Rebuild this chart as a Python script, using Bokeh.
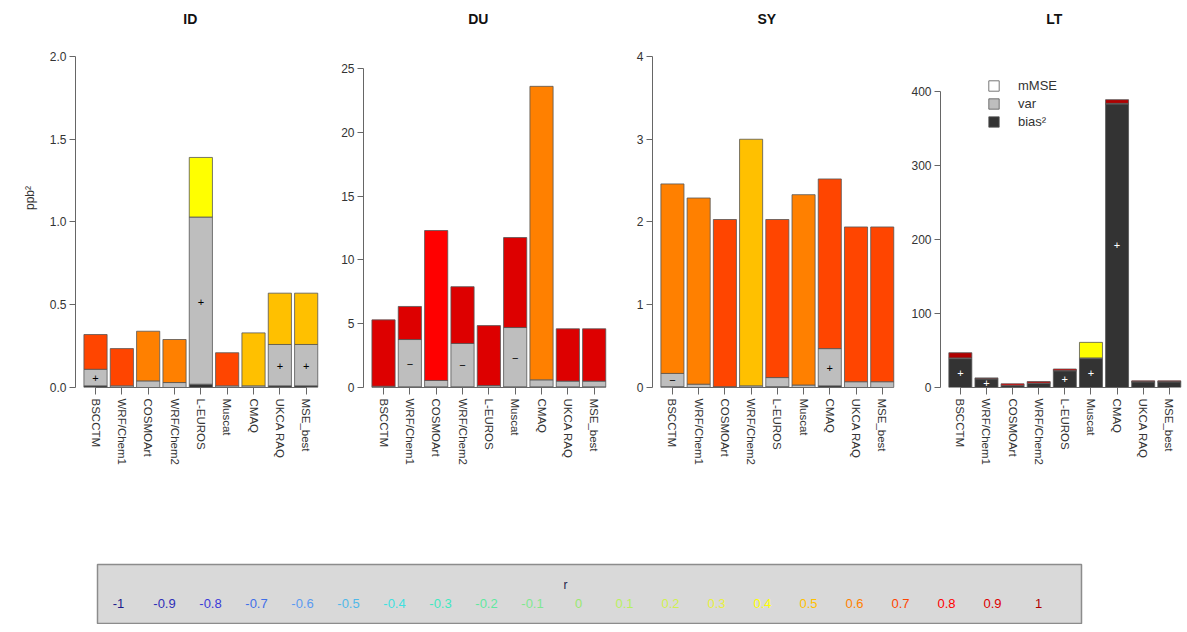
from bokeh.plotting import figure
from bokeh.models import (ColumnDataSource, Range1d, FixedTicker, Legend, LegendItem,
                          NumeralTickFormatter)
from bokeh.layouts import column, row
from bokeh.embed import file_html
from bokeh.resources import INLINE
from bokeh.core.properties import value

# ---------------- data ----------------
models = ["BSCCTM", "WRF/Chem1", "COSMOArt", "WRF/Chem2", "L-EUROS",
          "Muscat", "CMAQ", "UKCA RAQ", "MSE_best"]

# ID
id_bias2 = [0.01, 0.00, 0.00, 0.00, 0.02, 0.00, 0.00, 0.01, 0.01]
id_var = [0.10, 0.01, 0.04, 0.03, 1.01, 0.01, 0.01, 0.25, 0.25]
id_mmse = [0.21, 0.225, 0.30, 0.26, 0.36, 0.20, 0.32, 0.31, 0.31]
id_r = [0.7, 0.7, 0.6, 0.6, 0.4, 0.7, 0.5, 0.5, 0.5]
id_sign = ["+", "", "", "", "+", "", "", "+", "+"]

# DU
du_bias2 = [0.02, 0.05, 0.05, 0.05, 0.02, 0.05, 0.05, 0.05, 0.05]
du_var = [0.08, 3.71, 0.50, 3.40, 0.13, 4.65, 0.55, 0.45, 0.45]
du_mmse = [5.20, 2.59, 11.75, 4.45, 4.70, 7.05, 23.0, 4.10, 4.10]
du_r = [0.9, 0.9, 0.8, 0.9, 0.9, 0.9, 0.6, 0.9, 0.9]
du_sign = ["", "-", "", "-", "", "-", "", "", ""]

# SY
sy_bias2 = [0.01, 0.00, 0.00, 0.00, 0.01, 0.00, 0.02, 0.00, 0.00]
sy_var = [0.16, 0.04, 0.01, 0.02, 0.11, 0.03, 0.45, 0.07, 0.07]
sy_mmse = [2.29, 2.25, 2.02, 2.98, 1.91, 2.30, 2.05, 1.87, 1.87]
sy_r = [0.6, 0.6, 0.7, 0.5, 0.7, 0.6, 0.7, 0.7, 0.7]
sy_sign = ["-", "", "", "", "", "", "+", "", ""]

# LT
lt_bias2 = [39.0, 11.5, 2.5, 5.5, 22.5, 39.0, 383.0, 7.5, 7.5]
lt_var = [1.0, 0.5, 0.5, 0.5, 0.5, 1.0, 1.0, 0.5, 0.5]
lt_mmse = [7.0, 1.0, 2.0, 2.0, 2.0, 21.0, 5.0, 1.0, 1.0]
lt_r = [1.0, 0.9, 0.8, 0.9, 0.9, 0.4, 1.0, 0.9, 0.9]
lt_sign = ["+", "+", "", "", "+", "+", "+", "", ""]

# colour scale for r
r_levels = [-1.0, -0.9, -0.8, -0.7, -0.6, -0.5, -0.4, -0.3, -0.2, -0.1, 0.0,
            0.1, 0.2, 0.3, 0.4, 0.5, 0.6, 0.7, 0.8, 0.9, 1.0]
r_labels = ["-1", "-0.9", "-0.8", "-0.7", "-0.6", "-0.5", "-0.4", "-0.3", "-0.2",
            "-0.1", "0", "0.1", "0.2", "0.3", "0.4", "0.5", "0.6", "0.7", "0.8",
            "0.9", "1"]
r_colors = ["#1C1C8C", "#2E2EB8", "#3A3AD8", "#3F6FE8", "#5A9AF0", "#4FB8E8",
            "#3FE0E0", "#40E8C0", "#60E8A0", "#80E890", "#98E870", "#B8F060",
            "#D0F050", "#E8F040", "#FFFF00", "#FFC000", "#FF8000", "#FF4500",
            "#FF0000", "#DD0000", "#B00000"]

BIAS_COL = "#333333"
VAR_COL = "#BEBEBE"
FONT = "Liberation Sans"


def r_color(r):
    i = min(range(len(r_levels)), key=lambda k: abs(r_levels[k] - r))
    return r_colors[i]


def panel(name, bias2, var, mmse, r, sign, yticks, y_end, width, border_left,
          fmt, ylabel=None, legend=False):
    n = len(models)
    xs = list(range(n))
    b1 = list(bias2)
    b2 = [a + b for a, b in zip(bias2, var)]
    b3 = [a + b for a, b in zip(b2, mmse)]
    src = ColumnDataSource(dict(
        x=xs, zero=[0] * n, b1=b1, b2=b2, b3=b3,
        col=[r_color(v) for v in r],
        my=[v / 2 for v in b2], mtxt=[s.replace("-", "\u2212") for s in sign],
        mcol=["white" if a > b else "black" for a, b in zip(bias2, var)],
    ))
    p = figure(width=width, height=490, x_range=Range1d(-0.76, 8.62),
               y_range=Range1d(0, y_end), output_backend="svg",
               toolbar_location=None, min_border_left=border_left,
               min_border_right=0, min_border_top=8, min_border_bottom=103)
    p.outline_line_color = None
    p.xgrid.visible = False
    p.ygrid.visible = False
    w = 0.88
    lc = "#555555"
    rb = p.vbar(x="x", bottom="zero", top="b1", width=w, source=src,
                fill_color=BIAS_COL, line_color=lc, line_width=0.8)
    rv = p.vbar(x="x", bottom="b1", top="b2", width=w, source=src,
                fill_color=VAR_COL, line_color=lc, line_width=0.8)
    p.vbar(x="x", bottom="b2", top="b3", width=w, source=src,
           fill_color="col", line_color=lc, line_width=0.8)
    p.text(x="x", y="my", text="mtxt", source=src, text_color="mcol",
           text_align="center", text_baseline="middle", text_font=value(FONT),
           text_font_size="11px")
    # panel title
    p.text(x=[3.6], y=[y_end * 369.0 / 379.0], text=[name], text_font=value(FONT),
           text_font_style="bold", text_font_size="14px", text_align="center",
           text_baseline="middle", text_color="#111111")

    ya = p.yaxis[0]
    ya.ticker = FixedTicker(ticks=yticks)
    ya.formatter = NumeralTickFormatter(format=fmt)
    ya.bounds = (yticks[0], yticks[-1])
    ya.major_tick_out = 6
    ya.major_tick_in = 0
    ya.minor_tick_out = 0
    ya.minor_tick_in = 0
    ya.major_label_standoff = 3
    ya.axis_line_color = "#666666"
    ya.major_tick_line_color = "#666666"
    ya.major_label_text_font = FONT
    ya.major_label_text_font_size = "12px"
    ya.major_label_text_color = "#333333"
    if ylabel:
        ya.axis_label = ylabel
        ya.axis_label_text_font = FONT
        ya.axis_label_text_font_style = "normal"
        ya.axis_label_text_font_size = "12px"
        ya.axis_label_text_color = "#333333"
        ya.axis_label_standoff = 10

    xa = p.xaxis[0]
    xa.ticker = FixedTicker(ticks=xs)
    xa.major_label_overrides = {i: m for i, m in enumerate(models)}
    xa.major_label_orientation = "vertical"
    xa.bounds = (0, n - 1)
    xa.major_tick_out = 7
    xa.major_tick_in = 0
    xa.minor_tick_out = 0
    xa.minor_tick_in = 0
    xa.major_label_standoff = 4
    xa.axis_line_color = "#666666"
    xa.major_tick_line_color = "#666666"
    xa.major_label_text_font = FONT
    xa.major_label_text_font_size = "11.5px"
    xa.major_label_text_color = "#333333"

    if legend:
        # key-only renderer for the mMSE entry (zero height, outside the view)
        rm = p.vbar(x=[50], bottom=[0], top=[0], width=w, fill_color="white",
                    line_color="#777777")
        lg = Legend(items=[LegendItem(label="mMSE", renderers=[rm]),
                           LegendItem(label="var", renderers=[rv]),
                           LegendItem(label="bias\u00b2", renderers=[rb])],
                    location=(47, 257))
        lg.background_fill_alpha = 0
        lg.border_line_alpha = 0
        lg.padding = 0
        lg.margin = 0
        lg.spacing = 0
        lg.label_height = 18
        lg.glyph_height = 13
        lg.glyph_width = 13
        lg.label_standoff = 18
        lg.label_text_font = FONT
        lg.label_text_font_size = "13px"
        lg.label_text_color = "#333333"
        lg.label_text_baseline = "middle"
        p.add_layout(lg)
    return p


p1 = panel("ID", id_bias2, id_var, id_mmse, id_r, id_sign,
           [0, 0.5, 1.0, 1.5, 2.0], 2.290, 322, 75, "0.0", ylabel="ppb\u00b2")
p2 = panel("DU", du_bias2, du_var, du_mmse, du_r, du_sign,
           [0, 5, 10, 15, 20, 25], 29.70, 288, 41, "0")
p3 = panel("SY", sy_bias2, sy_var, sy_mmse, sy_r, sy_sign,
           [0, 1, 2, 3, 4], 4.580, 288, 42, "0")
p4 = panel("LT", lt_bias2, lt_var, lt_mmse, lt_r, lt_sign,
           [0, 100, 200, 300, 400], 512.2, 287, 42, "0", legend=True)

# ---------------- colour key for r ----------------
leg = figure(width=1185, height=134, x_range=Range1d(0, 1185), y_range=Range1d(134, 0),
             output_backend="svg", toolbar_location=None, min_border=0,
             x_axis_type=None, y_axis_type=None)
leg.outline_line_color = None
leg.xgrid.visible = False
leg.ygrid.visible = False
box_l, box_r, box_t, box_b = 97, 1081, 74, 133
leg.quad(left=[box_l], right=[box_r], top=[box_t], bottom=[box_b],
         fill_color="#D9D9D9", line_color="#8C8C8C", line_width=1.5)
step = (box_r - box_l - 64) / (len(r_levels) - 1)
lx = [box_l + 21 + i * step for i in range(len(r_levels))]
leg.text(x=lx, y=[113] * len(lx), text=r_labels, text_color=r_colors,
         text_align="center", text_baseline="middle", text_font=value(FONT),
         text_font_size="13px")
leg.text(x=[565], y=[94], text=["r"], text_color="#22224A", text_align="center",
         text_baseline="middle", text_font=value(FONT), text_font_size="12px")

layout = column(row(p1, p2, p3, p4), leg)
open("out.html", "w").write(file_html(layout, INLINE))
